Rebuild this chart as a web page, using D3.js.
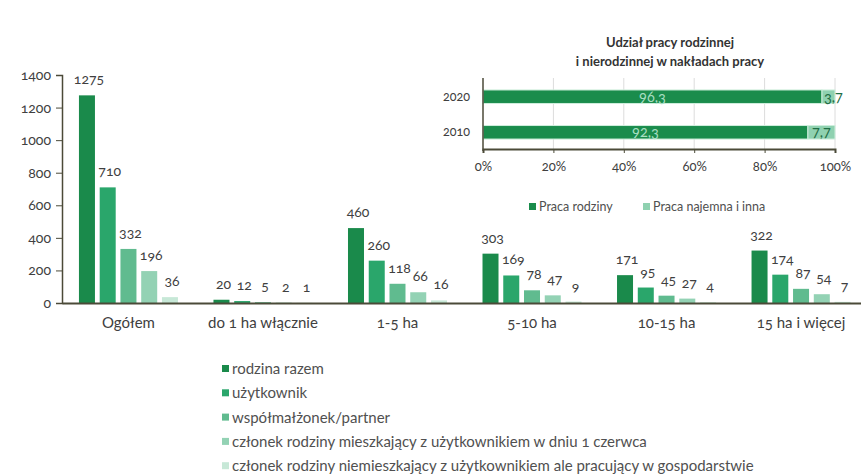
<!DOCTYPE html>
<html>
<head>
<meta charset="utf-8">
<script src="https://cdn.jsdelivr.net/npm/d3@7"></script>
<style>
  body { margin: 0; background: #fff; }
  svg text { font-family: Lato, "Open Sans", sans-serif; font-variant-numeric: oldstyle-nums; fill: #404040; }
</style>
</head>
<body>
<svg id="chart" width="861" height="475"></svg>
<script>
// main chart data
const categories = ["Ogółem", "do 1 ha włącznie", "1-5 ha", "5-10 ha", "10-15 ha", "15 ha i więcej"];
const seriesNames = [
  "rodzina razem",
  "użytkownik",
  "współmałżonek/partner",
  "członek rodziny mieszkający z użytkownikiem w dniu 1 czerwca",
  "członek rodziny niemieszkający z użytkownikiem ale pracujący w gospodarstwie"
];
const rodzinaRazem = [1275, 20, 460, 303, 171, 322];
const uzytkownik = [710, 12, 260, 169, 95, 174];
const wspolmalzonek = [332, 5, 118, 78, 45, 87];
const mieszkajacy = [196, 2, 66, 47, 27, 54];
const niemieszkajacy = [36, 1, 16, 9, 4, 7];
const yTicks = [0, 200, 400, 600, 800, 1000, 1200, 1400];

// inset chart data
const years = ["2020", "2010"];
const pracaRodziny = [96.3, 92.3];
const pracaNajemna = [3.7, 7.7];
const pctTicks = [0, 20, 40, 60, 80, 100];
const insetSeries = ["Praca rodziny", "Praca najemna i inna"];

const colors = ["#1a8a4b", "#2aa66b", "#60bb8f", "#93d2b4", "#c7e8d7"];
const insetColors = ["#1a8c4c", "#8fd1b0"];

const svg = d3.select("#chart");
const allSeries = [rodzinaRazem, uzytkownik, wspolmalzonek, mieszkajacy, niemieszkajacy];

// ---- main grouped bar chart ----
const x0 = d3.scaleBand().domain(categories).range([62, 867.5]).paddingInner(0.264).paddingOuter(0.126);
const x1 = d3.scaleBand().domain(d3.range(allSeries.length)).range([0, x0.bandwidth()]).paddingInner(0.229);
const y = d3.scaleLinear().domain([0, 1400]).range([303, 75]);

const yAxis = svg.append("g")
  .attr("transform", "translate(62,0)")
  .call(d3.axisLeft(y).tickValues(yTicks).tickFormat(d3.format("d")).tickSize(6).tickPadding(5));
yAxis.select(".domain").attr("stroke", "#4b4a38").attr("stroke-width", 1.5);
yAxis.selectAll(".tick line").attr("stroke", "#4b4a38");
yAxis.selectAll("text").attr("font-size", 14).style("fill", "#404040");

const groups = svg.append("g").selectAll("g")
  .data(categories)
  .join("g")
  .attr("transform", d => `translate(${x0(d)},0)`);

groups.selectAll("rect")
  .data((d, i) => allSeries.map((s, k) => ({ k, v: s[i] })))
  .join("rect")
  .attr("x", d => x1(d.k))
  .attr("width", x1.bandwidth())
  .attr("y", d => y(d.v))
  .attr("height", d => y(0) - y(d.v))
  .attr("fill", d => colors[d.k]);

groups.selectAll("text.val")
  .data((d, i) => allSeries.map((s, k) => ({ k, v: s[i] })))
  .join("text")
  .attr("class", "val")
  .attr("x", d => x1(d.k) + x1.bandwidth() / 2 + 2)
  .attr("y", d => y(d.v) - 11)
  .attr("text-anchor", "middle")
  .attr("font-size", 14)
  .text(d => d.v);

const xAxis = svg.append("g")
  .attr("transform", "translate(0,303)")
  .call(d3.axisBottom(x0).tickSize(0).tickPadding(14));
xAxis.select(".domain").attr("stroke", "#4b4a38").attr("stroke-width", 2);
xAxis.selectAll("text").attr("font-size", 15).style("fill", "#404040");

// main legend
const legend = svg.append("g").attr("transform", "translate(222,369)");
seriesNames.forEach((name, i) => {
  const row = legend.append("g").attr("transform", `translate(0,${i * 24.3})`);
  row.append("rect").attr("x", 0).attr("y", -4).attr("width", 7).attr("height", 7).attr("fill", colors[i]);
  row.append("text").attr("x", 10).attr("y", 5).attr("font-size", 15).style("fill", "#505050").text(name);
});

// ---- inset stacked bar chart ----
const ix = d3.scaleLinear().domain([0, 100]).range([483, 835]);
const iy = d3.scaleBand().domain(years).range([80, 149]).paddingInner(0.62).paddingOuter(0.28);

svg.append("text").attr("x", 670).attr("y", 47).attr("text-anchor", "middle")
  .attr("font-size", 13).attr("font-weight", "bold").style("fill", "#333").text("Udział pracy rodzinnej");
svg.append("text").attr("x", 670).attr("y", 66).attr("text-anchor", "middle")
  .attr("font-size", 13).attr("font-weight", "bold").style("fill", "#333").text("i nierodzinnej w nakładach pracy");

svg.append("g").selectAll("line")
  .data(pctTicks.slice(1))
  .join("line")
  .attr("x1", d => ix(d)).attr("x2", d => ix(d))
  .attr("y1", 78).attr("y2", 149)
  .attr("stroke", "#dcdcdc");

const insetRows = svg.append("g").selectAll("g")
  .data(years)
  .join("g")
  .attr("transform", d => `translate(0,${iy(d)})`);

insetRows.append("rect")
  .attr("x", ix(0))
  .attr("width", (d, i) => ix(pracaRodziny[i]) - ix(0))
  .attr("height", iy.bandwidth())
  .attr("fill", insetColors[0])
  .attr("stroke", "#cfeedd");
insetRows.append("rect")
  .attr("x", (d, i) => ix(pracaRodziny[i]))
  .attr("width", (d, i) => ix(pracaRodziny[i] + pracaNajemna[i]) - ix(pracaRodziny[i]))
  .attr("height", iy.bandwidth())
  .attr("fill", insetColors[1])
  .attr("stroke", "#cfeedd");

insetRows.append("text")
  .attr("x", (d, i) => (ix(0) + ix(pracaRodziny[i])) / 2)
  .attr("y", iy.bandwidth() / 2 + 5)
  .attr("text-anchor", "middle")
  .attr("font-size", 14.5)
  .style("fill", "#a8dec2")
  .text((d, i) => String(pracaRodziny[i]).replace(".", ","));
insetRows.append("text")
  .attr("x", (d, i) => {
    const w = ix(pracaNajemna[i]) - ix(0);
    return w < 20 ? ix(pracaRodziny[i]) + 2 : (ix(pracaRodziny[i]) + ix(100)) / 2;
  })
  .attr("text-anchor", (d, i) => (ix(pracaNajemna[i]) - ix(0)) < 20 ? "start" : "middle")
  .attr("y", iy.bandwidth() / 2 + 5)
  .attr("font-size", 14.5)
  .style("fill", "#1f6e45")
  .text((d, i) => String(pracaNajemna[i]).replace(".", ","));

const ixAxis = svg.append("g")
  .attr("transform", "translate(0,149)")
  .call(d3.axisBottom(ix).tickValues(pctTicks).tickFormat(d => d + "%").tickSize(4).tickPadding(9));
ixAxis.select(".domain").attr("stroke", "#4b4a38").attr("stroke-width", 2);
ixAxis.selectAll(".tick line").attr("stroke", "#4b4a38");
ixAxis.selectAll("text").attr("font-size", 13).style("fill", "#404040");

const iyAxis = svg.append("g")
  .attr("transform", `translate(${ix(0)},0)`)
  .call(d3.axisLeft(iy).tickSize(0).tickPadding(13));
iyAxis.select(".domain").attr("stroke", "#4b4a38").attr("stroke-width", 1.5).attr("d", "M0,78V151");
iyAxis.selectAll("text").attr("font-size", 12.5).style("fill", "#404040");

// inset legend
const ilegend = svg.append("g").attr("transform", "translate(529,207)");
insetSeries.forEach((name, i) => {
  const g = ilegend.append("g").attr("transform", `translate(${i * 114},0)`);
  g.append("rect").attr("x", 0).attr("y", -4).attr("width", 7).attr("height", 7).attr("fill", insetColors[i]);
  g.append("text").attr("x", 10).attr("y", 4).attr("font-size", 12.5).style("fill", "#505050").text(name);
});
</script>
</body>
</html>
